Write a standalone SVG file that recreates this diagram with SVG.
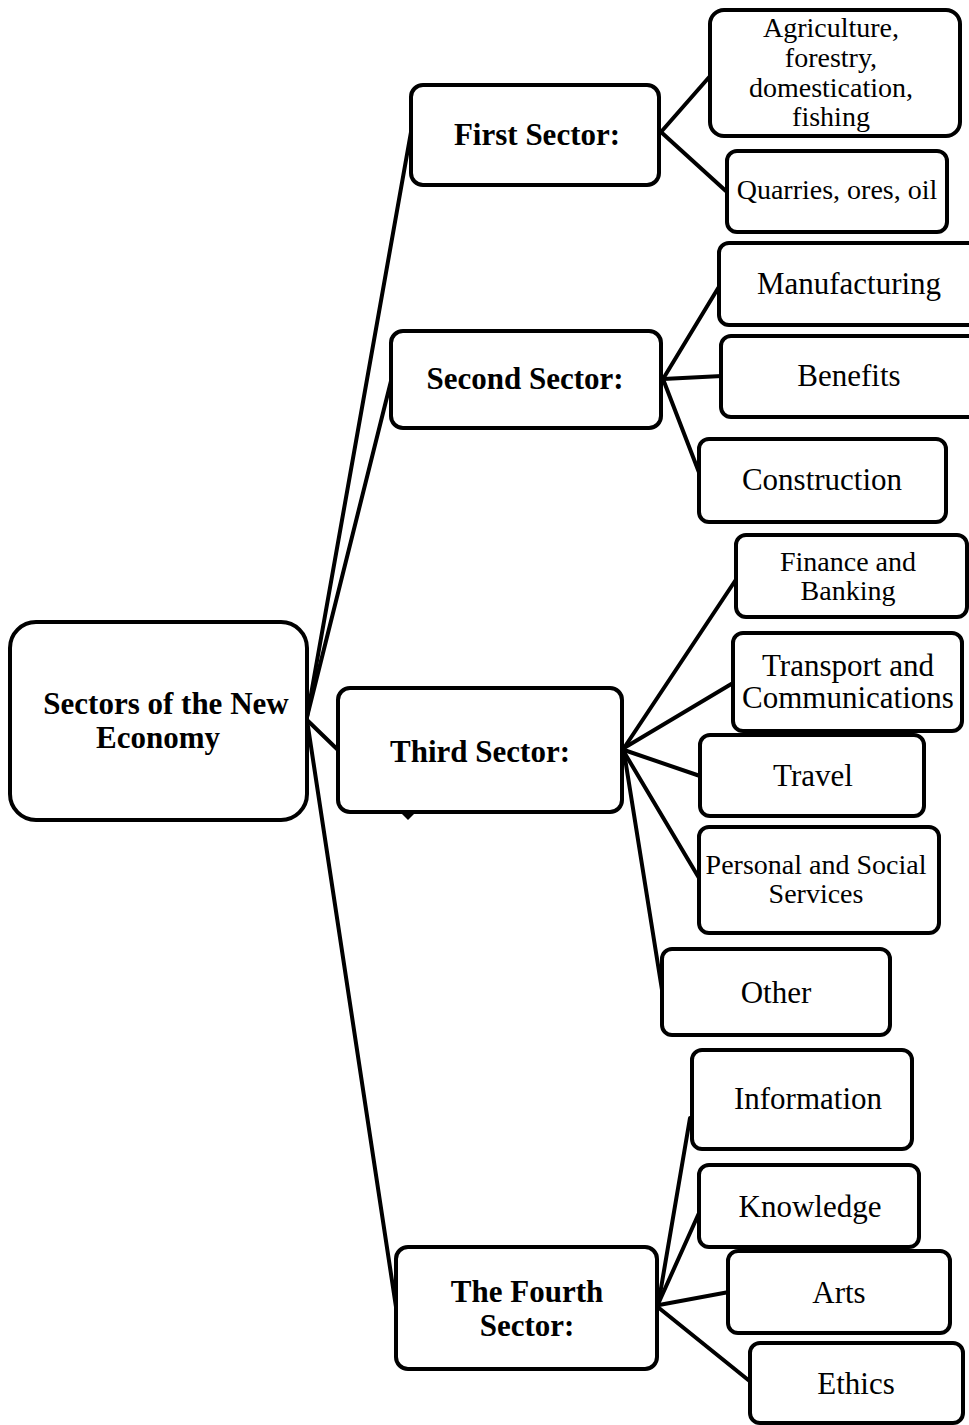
<svg xmlns="http://www.w3.org/2000/svg" width="969" height="1425" viewBox="0 0 969 1425">
<style>
.box{fill:#fff;stroke:#000;stroke-width:4}
.ln{stroke:#000;stroke-width:4;fill:none;stroke-linecap:round}
.b{font-family:"Liberation Serif","Times New Roman",serif;font-weight:bold;font-size:31px;text-anchor:middle;fill:#000}
.r{font-family:"Liberation Serif","Times New Roman",serif;font-size:31px;text-anchor:middle;fill:#000}
.s{font-family:"Liberation Serif","Times New Roman",serif;font-size:28px;text-anchor:middle;fill:#000}
</style>
<rect width="969" height="1425" fill="#fff"/>
<g id="connectors">
<line class="ln" x1="307" y1="717" x2="411" y2="132"/>
<line class="ln" x1="307" y1="717" x2="391" y2="381"/>
<line class="ln" x1="307" y1="720" x2="338" y2="750"/>
<line class="ln" x1="307" y1="720" x2="396" y2="1307"/>
<line class="ln" x1="661" y1="132" x2="711" y2="75"/>
<line class="ln" x1="661" y1="132" x2="727" y2="192"/>
<line class="ln" x1="663" y1="379" x2="720" y2="285"/>
<line class="ln" x1="663" y1="379" x2="722" y2="376"/>
<line class="ln" x1="663" y1="379" x2="700" y2="475"/>
<line class="ln" x1="624" y1="748" x2="737" y2="578"/>
<line class="ln" x1="624" y1="748" x2="733" y2="683"/>
<line class="ln" x1="624" y1="750" x2="700" y2="776"/>
<line class="ln" x1="624" y1="752" x2="699" y2="878"/>
<line class="ln" x1="624" y1="752" x2="662" y2="990"/>
<line class="ln" x1="659" y1="1300" x2="690" y2="1118"/>
<line class="ln" x1="659" y1="1302" x2="699" y2="1213"/>
<line class="ln" x1="659" y1="1305" x2="729" y2="1292"/>
<line class="ln" x1="659" y1="1308" x2="752" y2="1383"/>
</g>
<g id="main">
<rect class="box" x="10" y="622" width="297" height="198" rx="26"/>
<text class="b" x="166" y="714">Sectors of the New</text>
<text class="b" x="158" y="748">Economy</text>
</g>
<g id="first">
<rect class="box" x="411" y="85" width="248" height="100" rx="12"/>
<text class="b" x="537" y="145">First Sector:</text>
</g>
<g id="agri">
<rect class="box" x="710" y="10" width="250" height="126" rx="14"/>
<text class="s" x="831" y="37">Agriculture,</text>
<text class="s" x="831" y="67">forestry,</text>
<text class="s" x="831" y="97">domestication,</text>
<text class="s" x="831" y="126">fishing</text>
</g>
<g id="quarries">
<rect class="box" x="727" y="151" width="220" height="81" rx="10"/>
<text class="s" x="837" y="199">Quarries, ores, oil</text>
</g>
<g id="second">
<rect class="box" x="391" y="331" width="270" height="97" rx="12"/>
<text class="b" x="525" y="389">Second Sector:</text>
</g>
<g id="manufacturing">
<rect class="box" x="719" y="243" width="262" height="82" rx="10"/>
<text class="r" x="849" y="294">Manufacturing</text>
</g>
<g id="benefits">
<rect class="box" x="721" y="336" width="262" height="81" rx="10"/>
<text class="r" x="849" y="386">Benefits</text>
</g>
<g id="construction">
<rect class="box" x="699" y="439" width="247" height="83" rx="10"/>
<text class="r" x="822" y="490">Construction</text>
</g>
<g id="third">
<rect class="box" x="338" y="688" width="284" height="124" rx="12"/>
<polygon points="402,814 414,814 408,820" fill="#000"/>
<text class="b" x="480" y="762">Third Sector:</text>
</g>
<g id="finance">
<rect class="box" x="736" y="535" width="231" height="82" rx="10"/>
<text class="s" x="848" y="571">Finance and</text>
<text class="s" x="848" y="600">Banking</text>
</g>
<g id="transport">
<rect class="box" x="733" y="633" width="229" height="98" rx="10"/>
<text class="r" x="848" y="676">Transport and</text>
<text class="r" x="848" y="708">Communications</text>
</g>
<g id="travel">
<rect class="box" x="700" y="735" width="224" height="81" rx="10"/>
<text class="r" x="813" y="786">Travel</text>
</g>
<g id="personal">
<rect class="box" x="699" y="827" width="240" height="106" rx="10"/>
<text class="s" x="816" y="874">Personal and Social</text>
<text class="s" x="816" y="903">Services</text>
</g>
<g id="other">
<rect class="box" x="662" y="949" width="228" height="86" rx="10"/>
<text class="r" x="776" y="1003">Other</text>
</g>
<g id="fourth">
<rect class="box" x="396" y="1247" width="261" height="122" rx="12"/>
<text class="b" x="527" y="1302">The Fourth</text>
<text class="b" x="527" y="1336">Sector:</text>
</g>
<g id="information">
<rect class="box" x="692" y="1050" width="220" height="99" rx="10"/>
<text class="r" x="808" y="1109">Information</text>
</g>
<g id="knowledge">
<rect class="box" x="699" y="1165" width="220" height="82" rx="10"/>
<text class="r" x="810" y="1217">Knowledge</text>
</g>
<g id="arts">
<rect class="box" x="728" y="1251" width="222" height="82" rx="10"/>
<text class="r" x="839" y="1303">Arts</text>
</g>
<g id="ethics">
<rect class="box" x="750" y="1343" width="213" height="80" rx="10"/>
<text class="r" x="856" y="1394">Ethics</text>
</g>
</svg>
